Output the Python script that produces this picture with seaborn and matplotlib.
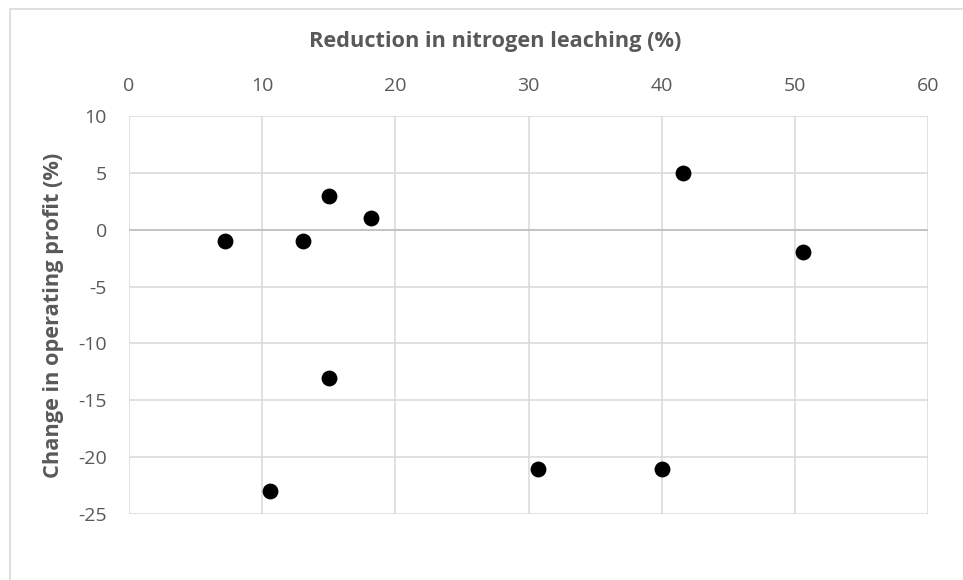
import matplotlib
matplotlib.use("Agg")
import matplotlib.pyplot as plt
import seaborn as sns
import pandas as pd
from matplotlib.patches import Rectangle

# Data
nitrogen_reduction = [7.2, 13.1, 15.0, 18.2, 15.0, 10.6, 30.7, 40.0, 41.6, 50.6]
profit_change = [-1, -1, 3, 1, -13, -23, -21, -21, 5, -2]
x_ticks = [0, 10, 20, 30, 40, 50, 60]
y_ticks = [10, 5, 0, -5, -10, -15, -20, -25]

df = pd.DataFrame({"x": nitrogen_reduction, "y": profit_change})

sns.set_theme(style="white")
plt.rcParams["font.family"] = ["Open Sans", "DejaVu Sans"]
plt.rcParams["axes.unicode_minus"] = False

text_color = "#595959"
grid_color = "#D9D9D9"

fig = plt.figure(figsize=(9.63, 5.8), dpi=100)
ax = fig.add_axes([129 / 963, 1 - 514 / 580, (928 - 129) / 963, (514 - 116) / 580])

sns.scatterplot(data=df, x="x", y="y", ax=ax, color="black", s=130,
                edgecolor="black", linewidth=0, zorder=3)

ax.set_xlim(0, 60)
ax.set_ylim(-25, 10)
ax.set_xticks(x_ticks)
ax.set_yticks(y_ticks)
ax.xaxis.tick_top()
ax.xaxis.set_label_position("top")
ax.grid(True, color=grid_color, linewidth=1.1)
ax.set_axisbelow(True)
ax.axhline(0, color="#BFBFBF", linewidth=1.2, zorder=2)
for s in ax.spines.values():
    s.set_visible(False)

ax.tick_params(axis="both", length=0, labelsize=14, labelcolor=text_color)
ax.tick_params(axis="x", pad=15)
ax.tick_params(axis="y", pad=16)

ax.set_xlabel("Reduction in nitrogen leaching (%)", fontsize=15.7,
              fontweight="bold", color=text_color, va="center", ha="center")
ax.xaxis.set_label_coords(495 / 963, 1 - 42 / 580, transform=fig.transFigure)
ax.set_ylabel("Change in operating profit (%)", fontsize=15.7,
              fontweight="bold", color=text_color, va="center", ha="center")
ax.yaxis.set_label_coords(54 / 963, 1 - 315 / 580, transform=fig.transFigure)

# outer chart border
fig.patches.append(Rectangle((10 / 963, -0.05), 1.2, 1 - 9 / 580 + 0.05,
                             transform=fig.transFigure, fill=False,
                             edgecolor="#D9D9D9", linewidth=1.2))

fig.savefig("out.png", dpi=100)
